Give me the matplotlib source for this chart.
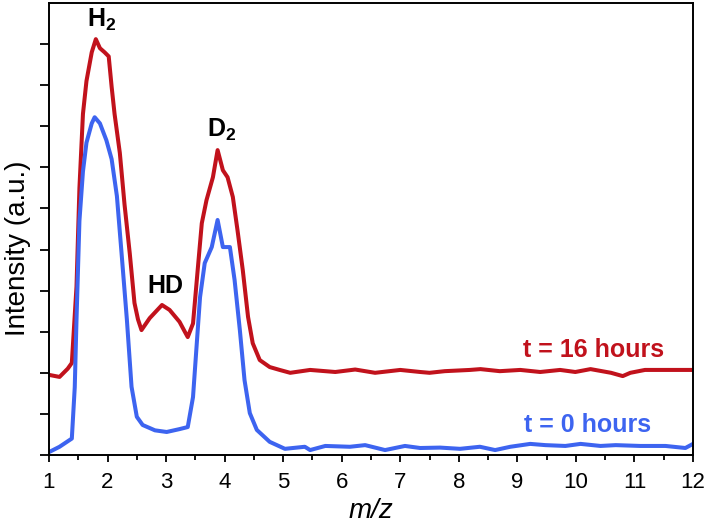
import matplotlib
matplotlib.use("Agg")
import matplotlib.pyplot as plt

plt.rcParams['font.family'] = ['Liberation Sans', 'DejaVu Sans']
plt.rcParams['mathtext.fontset'] = 'custom'
plt.rcParams['mathtext.bf'] = 'Liberation Sans:bold'
plt.rcParams['mathtext.rm'] = 'Liberation Sans'

# ---- data ----
x_t16 = [1.0, 1.18, 1.32, 1.39, 1.47, 1.52, 1.58, 1.64, 1.73, 1.80,
         1.87, 1.95, 2.02, 2.07, 2.12, 2.21, 2.29, 2.38, 2.46, 2.52,
         2.58, 2.72, 2.93, 3.06, 3.23, 3.32, 3.37, 3.46, 3.55, 3.61,
         3.69, 3.80, 3.88, 3.97, 4.05, 4.14, 4.22, 4.31, 4.40, 4.48,
         4.60, 4.77, 4.94, 5.12, 5.46, 5.89, 6.23, 6.57, 7.00, 7.34,
         7.50, 7.76, 8.19, 8.37, 8.70, 9.05, 9.39, 9.73, 9.99, 10.25,
         10.60, 10.80, 10.93, 11.18, 11.53, 12.0]
y_t16 = [1.95, 1.90, 2.10, 2.24, 4.10, 6.50, 8.30, 9.10, 9.80, 10.12,
         9.90, 9.80, 9.70, 8.96, 8.30, 7.35, 6.10, 4.90, 3.70, 3.30,
         3.04, 3.33, 3.65, 3.53, 3.24, 3.00, 2.87, 3.20, 4.67, 5.64,
         6.20, 6.76, 7.42, 6.93, 6.76, 6.28, 5.47, 4.50, 3.36, 2.72,
         2.31, 2.14, 2.07, 2.00, 2.07, 2.02, 2.08, 2.00, 2.07, 2.02,
         2.00, 2.04, 2.07, 2.09, 2.04, 2.07, 2.02, 2.07, 2.02, 2.09,
         2.00, 1.92, 2.00, 2.07, 2.07, 2.07]

x_t0 = [1.0, 1.18, 1.39, 1.44, 1.47, 1.52, 1.58, 1.64, 1.73, 1.78,
        1.87, 1.98, 2.07, 2.16, 2.24, 2.33, 2.41, 2.50, 2.60, 2.81,
        3.01, 3.23, 3.37, 3.46, 3.52, 3.58, 3.66, 3.78, 3.88, 3.97,
        4.09, 4.17, 4.26, 4.34, 4.43, 4.55, 4.77, 5.03, 5.37, 5.46,
        5.72, 6.14, 6.40, 6.74, 7.08, 7.34, 7.68, 8.02, 8.36, 8.62,
        8.88, 9.22, 9.48, 9.82, 10.08, 10.42, 10.68, 11.10, 11.53, 11.87,
        12.0]
y_t0 = [0.07, 0.20, 0.40, 1.65, 3.30, 5.70, 6.90, 7.60, 8.07, 8.22,
        8.07, 7.66, 7.20, 6.30, 4.90, 3.30, 1.66, 0.93, 0.73, 0.60,
        0.56, 0.63, 0.68, 1.41, 2.63, 3.84, 4.67, 5.06, 5.72, 5.06,
        5.06, 4.26, 3.04, 1.82, 1.02, 0.61, 0.32, 0.15, 0.20, 0.12,
        0.22, 0.20, 0.24, 0.12, 0.22, 0.17, 0.18, 0.15, 0.20, 0.12,
        0.20, 0.27, 0.24, 0.22, 0.27, 0.22, 0.24, 0.22, 0.22, 0.17,
        0.27]

x_ticks = list(range(1, 13))
x_ticklabels = [str(v) for v in x_ticks]

red = '#C1121C'
blue = '#3D64F0'

fig = plt.figure(figsize=(7.08, 5.26), dpi=100)
ax = fig.add_axes([0.0692, 0.135, 0.9096, 0.8593])

ax.plot(x_t16, y_t16, color=red, lw=2.9, solid_joinstyle='round', solid_capstyle='round')
ax.plot(x_t0, y_t0, color=blue, lw=2.9, solid_joinstyle='round', solid_capstyle='round')

ax.set_xlim(1, 12)
ax.set_ylim(0, 11)
ax.set_xticks(x_ticks)
ax.set_xticklabels(x_ticklabels)
ax.set_xticks([v + 0.5 for v in x_ticks[:-1]], minor=True)
ax.set_yticks(range(0, 11))
ax.set_yticklabels([])
ax.tick_params(axis='x', which='major', direction='out', length=5, width=1.3,
               labelsize=16, pad=7)
ax.tick_params(axis='x', which='minor', direction='out', length=3.5, width=1.3)
ax.tick_params(axis='y', which='major', direction='out', length=6.5, width=1.3)
for s in ax.spines.values():
    s.set_linewidth(1.4)
    s.set_color('black')

ax.set_xlabel('m/z', fontsize=20, style='italic', labelpad=4)
ax.set_ylabel('Intensity (a.u.)', fontsize=20)
ax.yaxis.set_label_coords(-0.028, 0.458)

bold = dict(fontsize=18, fontweight='bold', va='baseline', ha='left')
ax.text(1.65, 10.41, r'$\mathbf{H}_\mathbf{2}$', color='black', **bold)
ax.text(2.675, 3.94, 'HD', color='black', **bold)
ax.text(3.70, 7.74, r'$\mathbf{D}_\mathbf{2}$', color='black', **bold)
ax.text(9.09, 2.39, 't = 16 hours', color=red, **bold)
ax.text(9.11, 0.56, 't = 0 hours', color=blue, **bold)

fig.savefig('out.png', dpi=100)
